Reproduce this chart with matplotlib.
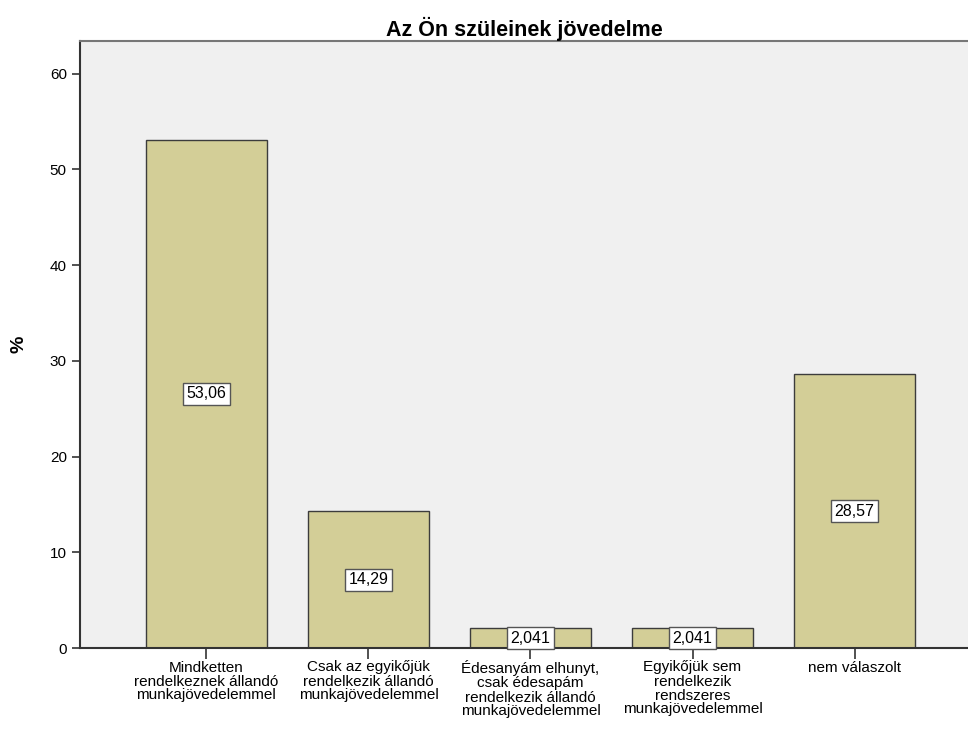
import matplotlib.pyplot as plt

plt.rcParams['font.family'] = ['Liberation Sans', 'DejaVu Sans']

categories = ["Mindketten\nrendelkeznek állandó\nmunkajövedelemmel",
              "Csak az egyikőjük\nrendelkezik állandó\nmunkajövedelemmel",
              "Édesanyám elhunyt,\ncsak édesapám\nrendelkezik állandó\nmunkajövedelemmel",
              "Egyikőjük sem\nrendelkezik\nrendszeres\nmunkajövedelemmel",
              "nem válaszolt"]
values = [53.06, 14.29, 2.041, 2.041, 28.57]
labels = ["53,06", "14,29", "2,041", "2,041", "28,57"]

fig = plt.figure(figsize=(9.68, 7.34), dpi=100)
ax = fig.add_axes([80 / 968, 86 / 734, 888 / 968, 607 / 734])
ax.set_facecolor('#f0f0f0')

x = list(range(len(values)))
ax.bar(x, values, width=0.747, color='#d3ce97', edgecolor='#3c3c3c', linewidth=1)
for xi, v, lab in zip(x, values, labels):
    ax.text(xi, v / 2, lab, ha='center', va='center', fontsize=11.5,
            bbox=dict(boxstyle='square,pad=0.22', fc='white', ec='#555555', lw=1))

ax.set_xlim(-0.78, 4.70)
ax.set_ylim(0, 63.4)
ax.set_yticks([0, 10, 20, 30, 40, 50, 60])
ax.set_xticks(x)
ax.set_xticklabels(categories, fontsize=11, linespacing=1.0)
ax.tick_params(axis='y', labelsize=11, length=6, width=1.2, color='#333333')
ax.tick_params(axis='x', length=8, width=1.2, color='#333333', pad=1)

for s in ['left', 'bottom', 'top']:
    ax.spines[s].set_linewidth(1.5)
    ax.spines[s].set_color('#333333')
ax.spines['top'].set_color('#777777')
ax.spines['right'].set_visible(False)

ax.set_ylabel('%', fontsize=14, fontweight='bold', labelpad=16)
ax.set_title('Az Ön szüleinek jövedelme', fontsize=15.5, fontweight='bold', pad=3)

fig.savefig('out.png', dpi=100)
